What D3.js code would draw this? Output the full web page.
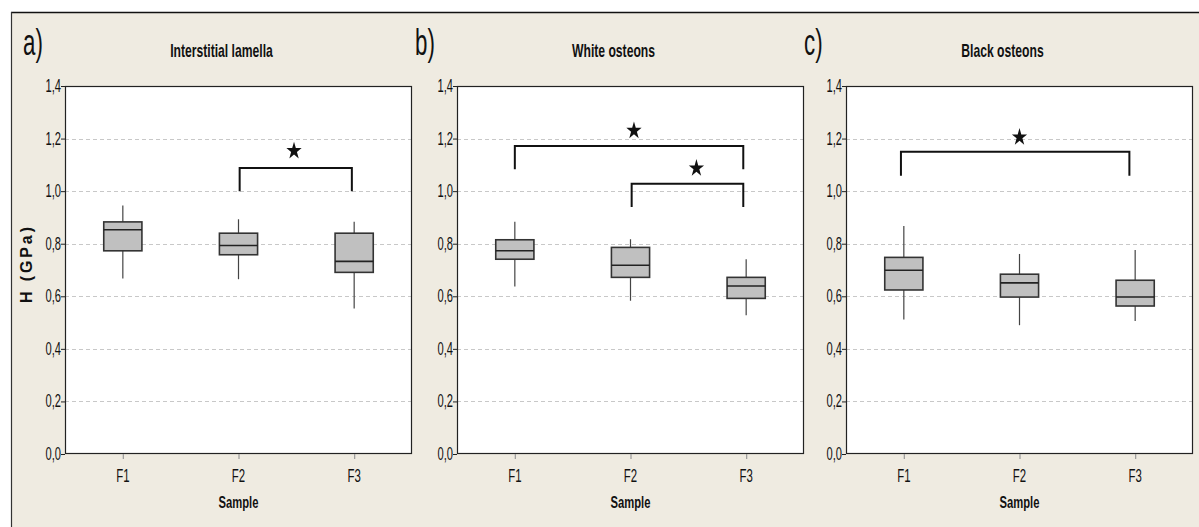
<!DOCTYPE html>
<html>
<head>
<meta charset="utf-8">
<script src="https://cdn.jsdelivr.net/npm/d3@7"></script>
<style>
  html, body { margin: 0; padding: 0; background: #ffffff; }
  svg { display: block; }
</style>
</head>
<body>
<script>
// ---------------- DATA ----------------
const categories = ["F1", "F2", "F3"];
const yTickValues = [0, 0.2, 0.4, 0.6, 0.8, 1.0, 1.2, 1.4];
const yTickLabels = ["0,0", "0,2", "0,4", "0,6", "0,8", "1,0", "1,2", "1,4"];
const gridValues = [0.2, 0.4, 0.6, 0.8, 1.0, 1.2];
const panelLetters = ["a)", "b)", "c)"];
const panelTitles = ["Interstitial lamella", "White osteons", "Black osteons"];
const xAxisTitle = "Sample";
const yAxisTitle = "H (GPa)";

// box stats per category: [whisker low, Q1, median, Q3, whisker high]
const lamellaBoxes = [
  [0.668, 0.773, 0.853, 0.883, 0.945],
  [0.665, 0.758, 0.793, 0.840, 0.893],
  [0.554, 0.691, 0.733, 0.840, 0.884]
];
const whiteBoxes = [
  [0.637, 0.741, 0.773, 0.815, 0.884],
  [0.583, 0.672, 0.718, 0.786, 0.817],
  [0.528, 0.592, 0.639, 0.672, 0.741]
];
const blackBoxes = [
  [0.512, 0.624, 0.699, 0.748, 0.867],
  [0.490, 0.597, 0.651, 0.684, 0.761],
  [0.506, 0.563, 0.597, 0.661, 0.776]
];

// significance brackets: [from category index (1-based), to, bracket level, end level]
const lamellaBrackets = [[2.01, 2.98, 1.088, 1.000]];
const whiteBrackets = [[1.00, 2.975, 1.172, 1.083], [2.01, 2.975, 1.028, 0.940]];
const blackBrackets = [[0.975, 2.95, 1.150, 1.059]];
// stars: [x position (category units), y value]
const lamellaStars = [[2.48, 1.153]];
const whiteStars = [[2.03, 1.230], [2.57, 1.087]];
const blackStars = [[2.00, 1.205]];

const panels = [
  { boxes: lamellaBoxes, brackets: lamellaBrackets, stars: lamellaStars },
  { boxes: whiteBoxes, brackets: whiteBrackets, stars: whiteStars },
  { boxes: blackBoxes, brackets: blackBrackets, stars: blackStars }
];

// ---------------- LAYOUT ----------------
const W = 1199, H = 527;
const plotLefts = [65, 457, 846];
const plotW = 347;
const plotTop = 86, plotBottom = 454;
const FONT = "'Liberation Sans', Arial, sans-serif";

const svg = d3.select("body").append("svg")
  .attr("width", W).attr("height", H);

// background frame
svg.append("rect").attr("x", 11).attr("y", 12).attr("width", W - 11).attr("height", H - 12)
  .attr("fill", "#efebe1");
svg.append("line").attr("x1", 11).attr("x2", W).attr("y1", 12.5).attr("y2", 12.5)
  .attr("stroke", "#111").attr("stroke-width", 1.5);
svg.append("line").attr("x1", 11.5).attr("x2", 11.5).attr("y1", 12).attr("y2", H)
  .attr("stroke", "#333").attr("stroke-width", 1.2);

function squeezed(g, x, y, txt, size, weight, sx, anchor, fill) {
  return g.append("text")
    .attr("transform", `translate(${x},${y}) scale(${sx},1)`)
    .attr("text-anchor", anchor || "middle")
    .attr("font-family", FONT)
    .attr("font-size", size)
    .attr("font-weight", weight || "normal")
    .attr("fill", fill || "#111")
    .text(txt);
}

const y = d3.scaleLinear().domain([0, 1.4]).range([plotBottom, plotTop]);

panels.forEach((p, i) => {
  const left = plotLefts[i];
  const x = d3.scaleLinear().domain([0.5, 3.5]).range([left, left + plotW]);
  const g = svg.append("g");

  // plot background
  g.append("rect").attr("x", left).attr("y", plotTop)
    .attr("width", plotW).attr("height", plotBottom - plotTop)
    .attr("fill", "#ffffff");

  // grid
  g.selectAll(".grid").data(gridValues).enter().append("line")
    .attr("x1", left).attr("x2", left + plotW)
    .attr("y1", d => Math.round(y(d)) + 0.5).attr("y2", d => Math.round(y(d)) + 0.5)
    .attr("stroke", "#c8c8c8").attr("stroke-width", 1)
    .attr("stroke-dasharray", "4,3");

  // frame
  g.append("rect").attr("x", left + 0.5).attr("y", plotTop + 0.5)
    .attr("width", plotW - 1).attr("height", plotBottom - plotTop - 1)
    .attr("fill", "none").attr("stroke", "#222").attr("stroke-width", 1.2);

  // y axis ticks + labels
  const yAxis = d3.axisLeft(y).tickValues(yTickValues).tickSize(4).tickFormat((d, k) => yTickLabels[k]);
  const ya = g.append("g").attr("transform", `translate(${left},0)`).call(yAxis);
  ya.select(".domain").remove();
  ya.selectAll(".tick line").attr("stroke", "#222");
  ya.selectAll(".tick text").remove();
  yTickValues.forEach((v, k) => {
    squeezed(g, left - 4, y(v) + 6, yTickLabels[k], 18, "normal", 0.62, "end", "#111");
  });

  // x axis ticks + labels
  const xAxis = d3.axisBottom(x).tickValues([1, 2, 3]).tickSize(5).tickFormat((d) => categories[d - 1]);
  const xa = g.append("g").attr("transform", `translate(0,${plotBottom})`).call(xAxis);
  xa.select(".domain").remove();
  xa.selectAll(".tick line").attr("stroke", "#999").attr("stroke-width", 1.2);
  xa.selectAll(".tick text").remove();
  categories.forEach((c, k) => {
    squeezed(g, x(k + 1), 482, c, 19, "normal", 0.6, "middle", "#111");
  });

  // boxes
  const half = 0.165;
  p.boxes.forEach((b, k) => {
    const cx = x(k + 1);
    const bx0 = x(k + 1 - half), bx1 = x(k + 1 + half);
    g.append("line").attr("x1", cx).attr("x2", cx).attr("y1", y(b[4])).attr("y2", y(b[3]))
      .attr("stroke", "#444").attr("stroke-width", 1.2);
    g.append("line").attr("x1", cx).attr("x2", cx).attr("y1", y(b[1])).attr("y2", y(b[0]))
      .attr("stroke", "#444").attr("stroke-width", 1.2);
    g.append("rect").attr("x", bx0).attr("y", y(b[3]))
      .attr("width", bx1 - bx0).attr("height", y(b[1]) - y(b[3]))
      .attr("fill", "#c0c0c0").attr("stroke", "#333").attr("stroke-width", 1.6);
    g.append("line").attr("x1", bx0).attr("x2", bx1).attr("y1", y(b[2])).attr("y2", y(b[2]))
      .attr("stroke", "#222").attr("stroke-width", 1.6);
  });

  // brackets
  p.brackets.forEach(br => {
    const path = d3.path();
    path.moveTo(x(br[0]), y(br[3]));
    path.lineTo(x(br[0]), y(br[2]));
    path.lineTo(x(br[1]), y(br[2]));
    path.lineTo(x(br[1]), y(br[3]));
    g.append("path").attr("d", path.toString())
      .attr("fill", "none").attr("stroke", "#111").attr("stroke-width", 2);
  });

  // stars
  const star = d3.symbol().type(d3.symbolStar).size(72);
  p.stars.forEach(s => {
    g.append("path").attr("d", star())
      .attr("transform", `translate(${x(s[0])},${y(s[1])}) scale(1,1.15)`)
      .attr("fill", "#111");
  });

  // panel letter & title
  squeezed(g, left - 42, 55, panelLetters[i], 36, "normal", 0.62, "start", "#111");
  squeezed(g, left + plotW / 2 - 17, 57, panelTitles[i], 19, "bold", 0.64, "middle", "#111");

  // x axis title
  squeezed(g, left + plotW / 2, 508, xAxisTitle, 17, "bold", 0.66, "middle", "#111");
});

// y axis title (left panel only)
svg.append("text")
  .attr("transform", `translate(32,265) rotate(-90)`)
  .attr("text-anchor", "middle")
  .attr("font-family", FONT)
  .attr("font-size", 16)
  .attr("font-weight", "bold")
  .attr("fill", "#111")
  .attr("textLength", 76)
  .attr("lengthAdjust", "spacing")
  .text(yAxisTitle);
</script>
</body>
</html>
